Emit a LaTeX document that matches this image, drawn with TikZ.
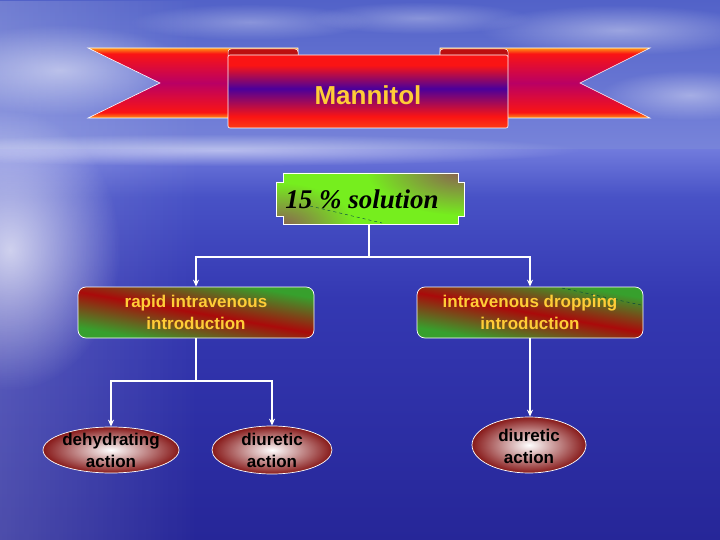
\documentclass[tikz,border=0pt]{standalone}
\usepackage{fontspec}
\setmainfont{Liberation Sans}
\newfontfamily\timesfont{Liberation Serif}
\usetikzlibrary{shapes.geometric,arrows.meta,fadings,calc}

\definecolor{skyA}{RGB}{82,98,200}
\definecolor{skyB}{RGB}{120,132,218}
\definecolor{seaA}{RGB}{112,122,220}
\definecolor{seaB}{RGB}{72,82,198}
\definecolor{seaC}{RGB}{52,56,178}
\definecolor{seaD}{RGB}{38,38,152}
\definecolor{ribor}{RGB}{255,150,20}
\definecolor{ribred}{RGB}{250,20,20}
\definecolor{ribmag}{RGB}{185,0,100}
\definecolor{ribpur}{RGB}{75,0,155}
\definecolor{gold}{RGB}{255,205,55}
\definecolor{bxg}{RGB}{55,160,45}
\definecolor{bxr}{RGB}{170,10,10}
\definecolor{solg}{RGB}{118,238,30}
\definecolor{solb}{RGB}{140,90,85}
\definecolor{ellr}{RGB}{135,25,25}

\pgfdeclareverticalshading{seash}{100bp}{color(0bp)=(seaD); color(25bp)=(seaD); color(56bp)=(seaC); color(69bp)=(seaB); color(75bp)=(seaA); color(100bp)=(seaA)}
\pgfdeclareverticalshading{tailsh}{100bp}{color(0bp)=(ribor); color(25bp)=(ribor); color(29bp)=(ribred); color(50bp)=(ribmag); color(71bp)=(ribred); color(75bp)=(ribor); color(100bp)=(ribor)}
\pgfdeclareverticalshading{bandsh}{100bp}{color(0bp)=(ribor); color(25bp)=(ribred!70!ribor); color(33bp)=(ribred); color(52bp)=(ribpur); color(68bp)=(ribred); color(75bp)=(ribred); color(100bp)=(ribred)}
\pgfdeclareverticalshading{gbandv}{100bp}{color(0bp)=(bxg); color(25bp)=(bxg); color(31bp)=(bxg); color(50bp)=(bxr); color(69bp)=(bxg); color(75bp)=(bxg); color(100bp)=(bxg)}
\tikzfading[name=softglow, inner color=transparent!0, outer color=transparent!100]

\tikzset{
  conn/.style={white, line width=1.6pt},
  arr/.style={white, line width=1.6pt, -{Stealth[length=7pt,width=6pt]}},
  stepbox/.style={rectangle, rounded corners=8pt, draw=white, line width=0.7pt,
    inner sep=0pt, align=center,
    minimum height=51pt, text=gold, font=\bfseries\fontsize{17}{22}\selectfont},
  act/.style={ellipse, draw=white, line width=0.7pt, inner color=white, outer color=ellr, inner sep=0pt},
  acttext/.style={align=center, text=black, font=\bfseries\fontsize{17}{22}\selectfont},
  cloud/.style={white, path fading=softglow}
}

\begin{document}
\begin{tikzpicture}[x=1pt,y=-1pt]
\useasboundingbox (0,0) rectangle (720,540);
% background
\fill[top color=skyA, bottom color=skyB] (0,0) rectangle (720,150);
\fill[shading=seash] (0,150) rectangle (720,540);
\fill[white, opacity=0.18, path fading=east] (0,0) rectangle (200,540);
\fill[cloud, opacity=0.7] (10,250) ellipse (110pt and 140pt);
\fill[cloud, opacity=0.4] (620,30) ellipse (140pt and 25pt);
\fill[cloud, opacity=0.3] (420,18) ellipse (110pt and 16pt);
\fill[cloud, opacity=0.4] (690,95) ellipse (90pt and 25pt);
\fill[cloud, opacity=0.5] (60,70) ellipse (130pt and 45pt);
\fill[cloud, opacity=0.3] (250,22) ellipse (120pt and 18pt);
\fill[cloud, opacity=0.5] (220,150) ellipse (360pt and 16pt);

% ribbon
\shadedraw[shading=tailsh, draw=white, line width=0.6pt] (88,48) -- (298,48) -- (298,118) -- (88,118) -- (160,83) -- cycle;
\shadedraw[shading=tailsh, draw=white, line width=0.6pt] (650,48) -- (440,48) -- (440,118) -- (650,118) -- (580,83) -- cycle;
\filldraw[fill=ribred!75!black, draw=white, line width=0.5pt, rounded corners=3pt] (228,49) rectangle (298,60);
\filldraw[fill=ribred!75!black, draw=white, line width=0.5pt, rounded corners=3pt] (440,49) rectangle (508,60);
\shadedraw[shading=bandsh, draw=white, line width=0.6pt, rounded corners=2pt] (228,55) rectangle (508,128);
\node[text=gold, font=\bfseries\fontsize{26}{30}\selectfont] (title) at (368,95) {Mannitol};

% solution box
\begin{scope}
  \clip (283,173) -- (458,173) -- (458,182) -- (464,182) -- (464,216) -- (458,216) -- (458,224)
    -- (283,224) -- (283,216) -- (276,216) -- (276,182) -- (283,182) -- cycle;
  \fill[solg] (270,170) rectangle (470,230);
  \fill[solb, path fading=softglow] (280,228) ellipse (75pt and 45pt);
  \fill[solb, path fading=softglow] (462,170) ellipse (95pt and 45pt);
\end{scope}
\draw[white, line width=0.8pt]
  (283,173) -- (458,173) -- (458,182) -- (464,182) -- (464,216) -- (458,216) -- (458,224)
  -- (283,224) -- (283,216) -- (276,216) -- (276,182) -- (283,182) -- cycle;
\node[rectangle, minimum width=188pt, minimum height=51pt, inner sep=0pt] (solbox) at (370,198.5) {};
\draw[dashed, line width=0.4pt, black!45!teal] (310,206) -- (382,223);
\node[font=\timesfont\bfseries\itshape\fontsize{27}{30}\selectfont, text=black] (soltext) at (362,199) {15 \% solution};

% second level: gradient fills
\begin{scope}
  \clip[rounded corners=8pt] (78,287) rectangle (314,338);
  \begin{scope}[transform canvas={shift={(196,312.5)}, rotate=-10}]
    \shade[shading=gbandv] (-130,-46) rectangle (130,46);
  \end{scope}
\end{scope}
\begin{scope}
  \clip[rounded corners=8pt] (417,287) rectangle (643,338);
  \begin{scope}[transform canvas={shift={(530,312.5)}, rotate=-10}]
    \shade[shading=gbandv] (-125,-45) rectangle (125,45);
  \end{scope}
\end{scope}
\draw[dashed, line width=0.4pt, black!50!teal] (562,288) -- (641,305);
\node[stepbox, minimum width=236pt] (b1) at (196,312.5) {rapid intravenous\\introduction};
\node[stepbox, minimum width=226pt] (b2) at (530,312.5) {intravenous dropping\\introduction};

% ellipses
\node[act, minimum width=136pt, minimum height=46pt] (e1) at (111,450) {};
\node[act, minimum width=120pt, minimum height=48pt] (e2) at (272,450) {};
\node[act, minimum width=114pt, minimum height=56pt] (e3) at (529,445) {};
\node[acttext] (t1) at (e1) {dehydrating\\action};
\node[acttext] (t2) at (e2) {diuretic\\action};
\node[acttext] (t3) at (529,446) {diuretic\\action};

% connectors
\coordinate (j1) at (369,257);
\draw[conn] (solbox.south -| j1) -- (j1);
\draw[arr] (j1) -| (b1.north);
\draw[arr] (j1) -| (b2.north);
\coordinate (j2) at (196,381);
\draw[conn] (b1.south) -- (j2);
\draw[arr] (j2) -| (e1.north);
\draw[arr] (j2) -| (e2.north);
\draw[arr] (b2.south) -- (b2.south |- e3.north);
\end{tikzpicture}
\end{document}
